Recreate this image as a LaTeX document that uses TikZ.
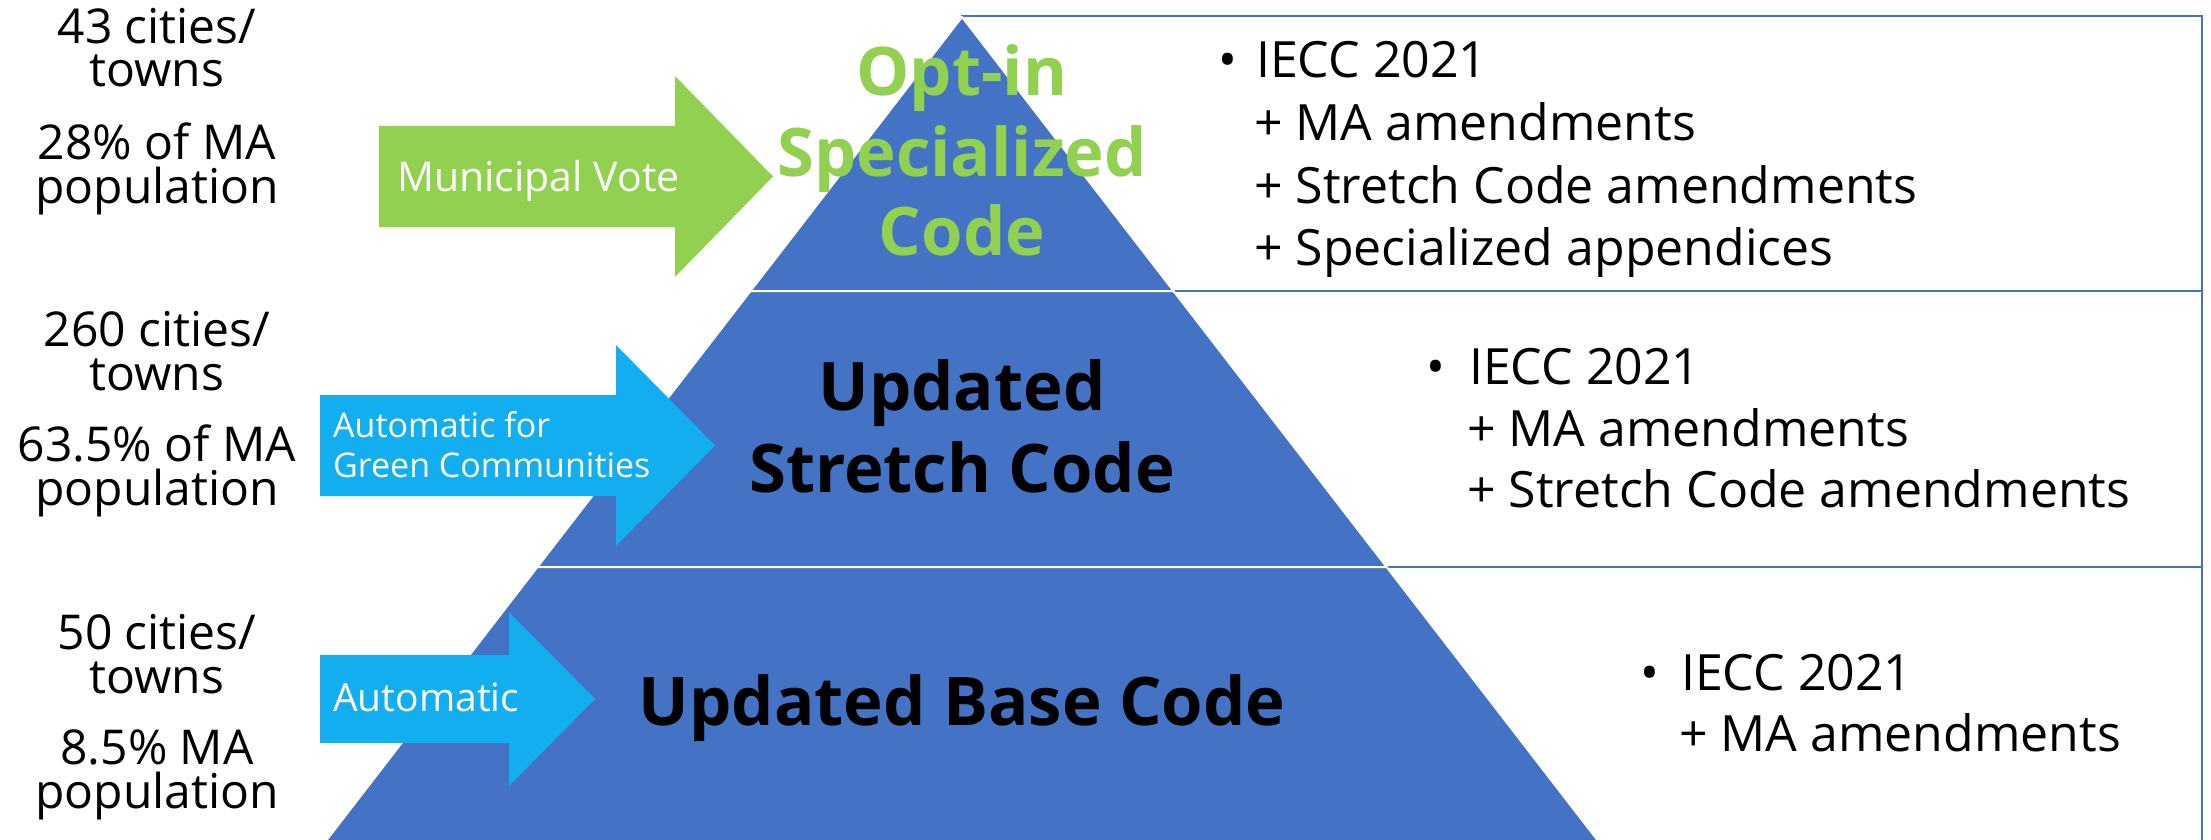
\documentclass[tikz,border=0pt]{standalone}
\usepackage{fontspec}
\setmainfont{Open Sans}
\definecolor{pyblue}{HTML}{4472C4}
\definecolor{boxblue}{HTML}{4472C4}
\definecolor{vgreen}{HTML}{92D050}
\definecolor{cyanb}{HTML}{12AEEF}
\tikzset{
  tier/.style={fill=pyblue, draw=white, line width=2pt, line join=round},
  listbox/.style={fill=white, draw=boxblue, line width=2.5pt},
  greenarrow/.style={fill=vgreen, draw=none},
  bluearrow/.style={fill=cyanb, draw=none},
  lefttxt/.style={anchor=base, inner sep=0pt, align=center, font=\fontsize{48}{43.5}\selectfont},
  righttxt/.style={anchor=base west, inner sep=0pt, font=\fontsize{50}{50}\selectfont},
  bul/.style={anchor=base west, inner sep=0pt, font=\fontsize{50}{50}\selectfont},
  tiertxt/.style={anchor=base, inner sep=0pt, font=\fontsize{67}{67}\selectfont\bfseries},
  arrtxt/.style={anchor=base west, inner sep=0pt, text=white},
}
\begin{document}
\begin{tikzpicture}[x=1pt,y=-1pt]
\useasboundingbox (0,0) rectangle (2211,840);
\clip (0,0) rectangle (2211,840);
\fill[white] (0,0) rectangle (2211,840);

% list boxes behind the pyramid
\draw[listbox] (962,16) rectangle (2202,291);
\draw[listbox] (962,291) rectangle (2202,567);
\draw[listbox] (962,567) rectangle (2202,890);

% pyramid tiers
\draw[tier] (962,17) -- (1173.5,291) -- (750.5,291) -- cycle;
\draw[tier] (750.5,291) -- (1173.5,291) -- (1386.6,567) -- (537.4,567) -- cycle;
\draw[tier] (537.4,567) -- (1386.6,567) -- (1620.5,870) -- (303.5,870) -- cycle;

% arrows
\fill[greenarrow] (379,126) -- (675,126) -- (675,76) -- (773,176.5) -- (675,277) -- (675,227) -- (379,227) -- cycle;
\fill[bluearrow] (320,395) -- (616,395) -- (616,345) -- (715,445.5) -- (616,546) -- (616,496) -- (320,496) -- cycle;
\fill[bluearrow] (320,655) -- (509,655) -- (509,612) -- (595,699) -- (509,786) -- (509,743) -- (320,743) -- cycle;

% arrow labels
\node[arrtxt, font=\fontsize{41}{41}\selectfont] (mv) at (397,191) {Municipal Vote};
\node[arrtxt, align=left, font=\fontsize{34}{40}\selectfont] (af) at (333,477) {Automatic for\\Green Communities};
\node[arrtxt, font=\fontsize{39}{39}\selectfont] (au) at (333,711) {Automatic};

% pyramid labels
\node[tiertxt, text=vgreen] (t1a) at (962,96) {Opt-in};
\node[tiertxt, text=vgreen] (t1b) at (962,176) {Specialized};
\node[tiertxt, text=vgreen] (t1c) at (962,255) {Code};
\node[tiertxt] (t2a) at (962,410) {Updated};
\node[tiertxt] (t2b) at (962,492) {Stretch Code};
\node[tiertxt] (t3a) at (962,725) {Updated Base Code};

% left column
\node[lefttxt] (l1a) at (157,87) {43 cities/\\towns};
\node[lefttxt] (l1c) at (157,203) {28\% of MA\\population};
\node[lefttxt] (l2a) at (157,390) {260 cities/\\towns};
\node[lefttxt] (l2c) at (157,505) {63.5\% of MA\\population};
\node[lefttxt] (l3a) at (157,693) {50 cities/\\towns};
\node[lefttxt] (l3c) at (157,808) {8.5\% MA\\population};

% right lists
\node[bul] (b1) at (1218,78) {•};
\node[righttxt] (r1a) at (1256,78) {IECC 2021};
\node[righttxt] (r1b) at (1254,140) {+ MA amendments};
\node[righttxt] (r1c) at (1254,203) {+ Stretch Code amendments};
\node[righttxt] (r1d) at (1254,265) {+ Specialized appendices};

\node[bul] (b2) at (1426,384) {•};
\node[righttxt] (r2a) at (1469,384) {IECC 2021};
\node[righttxt] (r2b) at (1467,446) {+ MA amendments};
\node[righttxt] (r2c) at (1467,507) {+ Stretch Code amendments};

\node[bul] (b3) at (1640,690) {•};
\node[righttxt] (r3a) at (1681,690) {IECC 2021};
\node[righttxt] (r3b) at (1679,751) {+ MA amendments};
\end{tikzpicture}
\end{document}
